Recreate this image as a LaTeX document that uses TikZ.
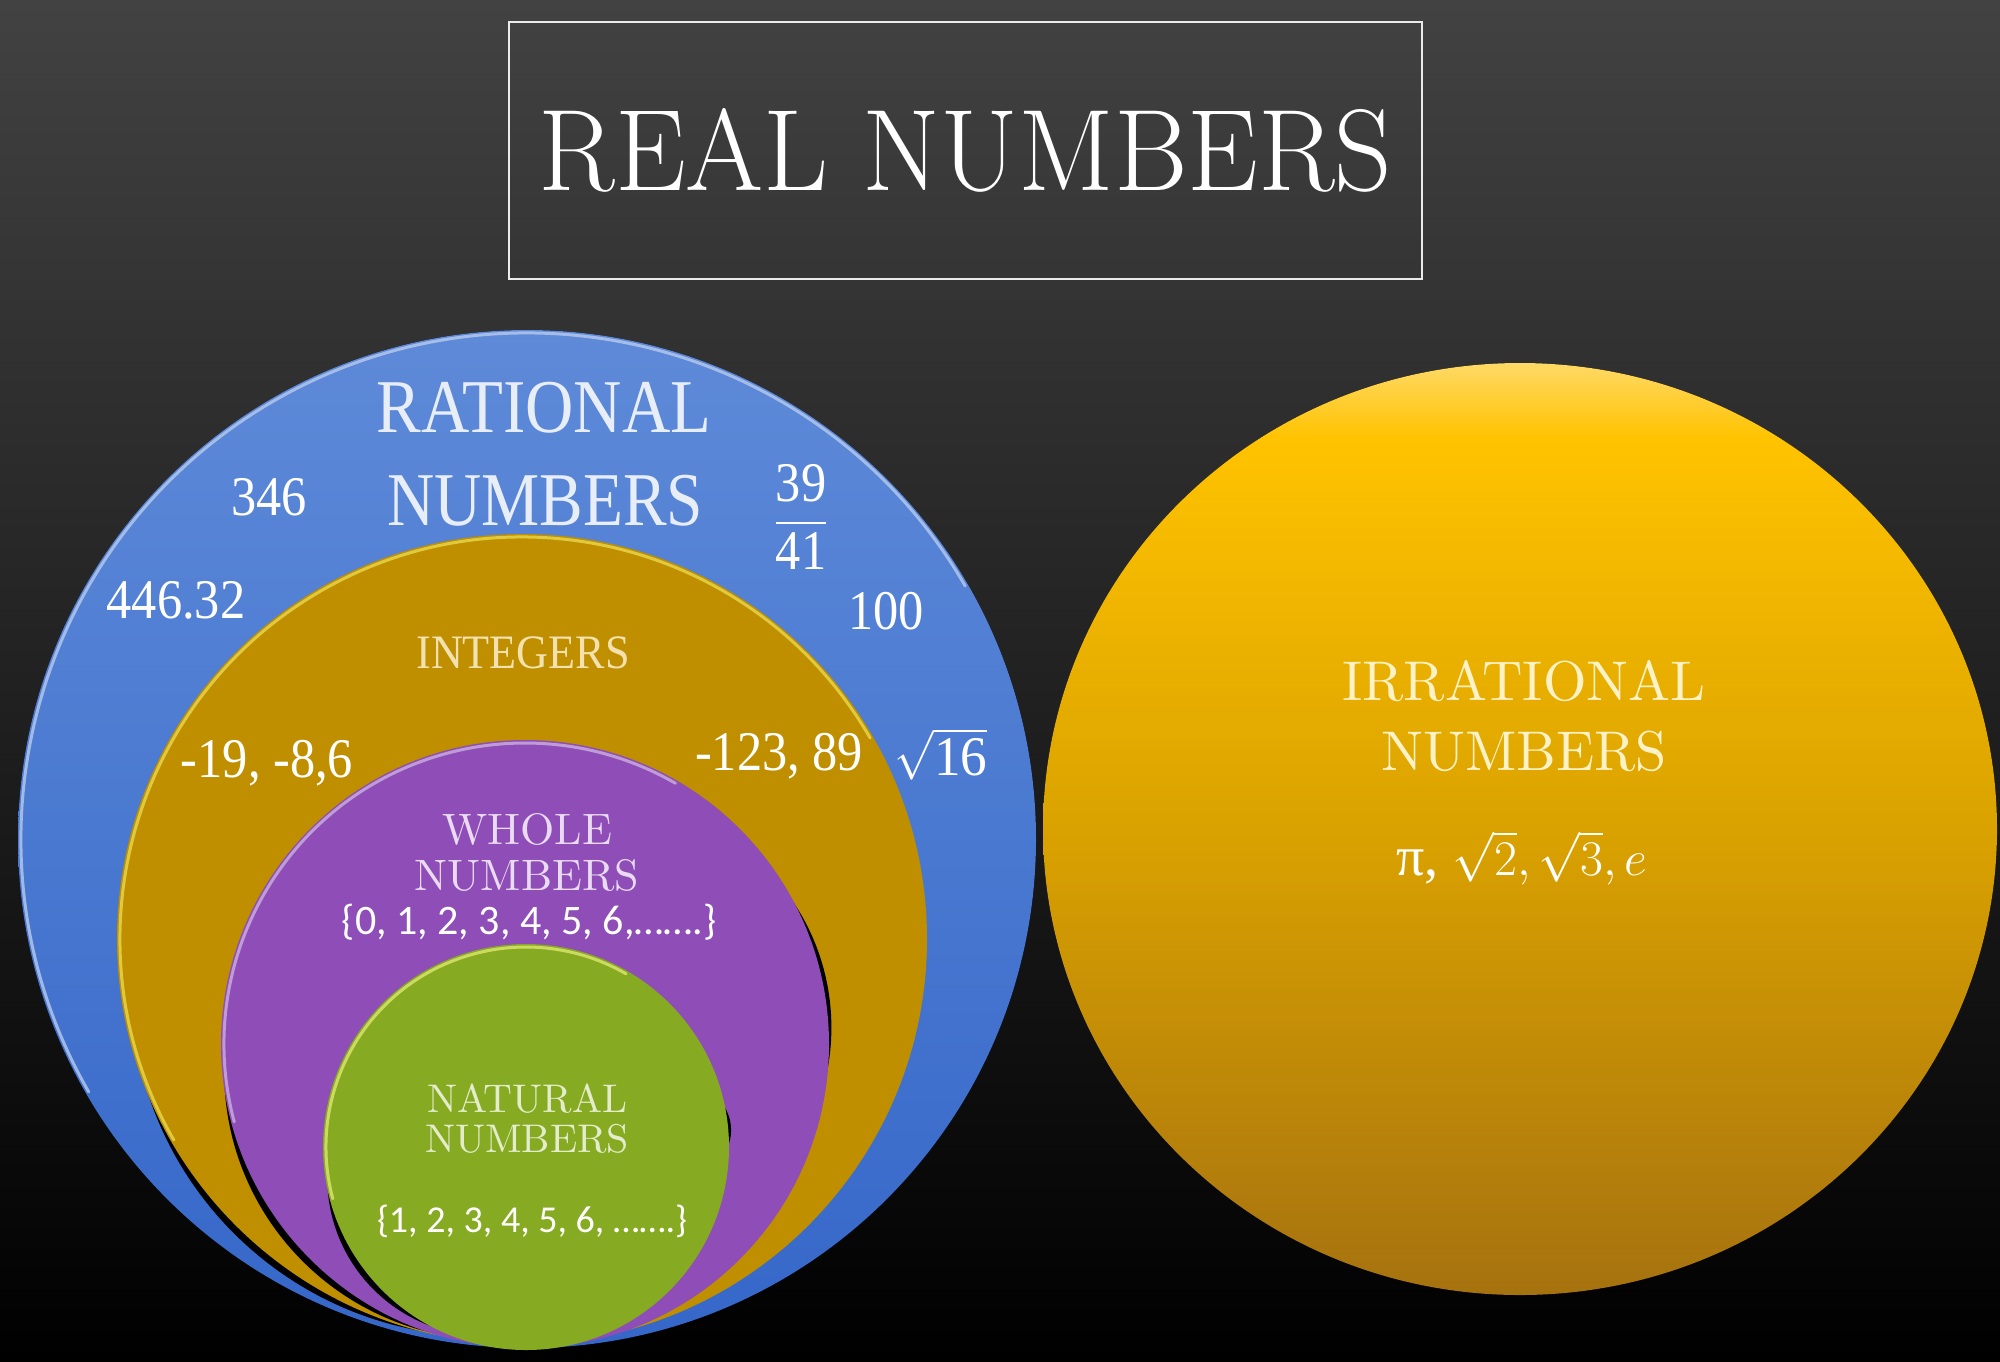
\documentclass[tikz,border=0pt]{standalone}
\usepackage{fontspec}
\usepackage{amsmath}
\usepackage{graphicx}
\newfontfamily\libs{Liberation Serif}
\newfontfamily\carl{Carlito}
\newfontfamily\lmten{lmroman10-regular.otf}
\definecolor{bgtop}{HTML}{424242}
\definecolor{bgmid}{HTML}{171717}
\definecolor{blueT}{HTML}{5E8AD8}
\definecolor{blueB}{HTML}{3567C9}
\definecolor{intgold}{HTML}{BF8F00}
\definecolor{wpurple}{HTML}{8E4DB7}
\definecolor{ngreen}{HTML}{86AB22}
\definecolor{irrL}{HTML}{FFD966}
\definecolor{irrT}{HTML}{FFC300}
\definecolor{irrM}{HTML}{DAA200}
\definecolor{irrB}{HTML}{A6720F}
\definecolor{ratTxt}{HTML}{E8EEF8}
\definecolor{intTxt}{HTML}{F3E2B0}
\definecolor{wholeTxt}{HTML}{EADAF2}
\definecolor{natTxt}{HTML}{E4ECCC}
\definecolor{irrTxt}{HTML}{FFF2C6}
\pgfdeclareverticalshading{irrshade}{100bp}{color(0bp)=(irrB); color(25bp)=(irrB); color(50bp)=(irrM); color(71bp)=(irrT); color(75bp)=(irrL); color(100bp)=(irrL)}
\newcommand{\fsz}[1]{\fontsize{#1}{#1}\selectfont}
\begin{document}
\begin{tikzpicture}[x=0.5pt,y=-0.5pt,
  lbl/.style={inner sep=0pt, align=center},
  ratlbl/.style={lbl, text=ratTxt, font=\libs\fsz{38}},
  numlbl/.style={lbl, text=white, font=\libs\fsz{28}},
  intlbl/.style={lbl, text=intTxt, font=\libs\fsz{24}},
  wholelbl/.style={lbl, text=wholeTxt, font=\lmten\fsz{22}},
  natlbl/.style={lbl, text=natTxt, font=\lmten\fsz{20}},
  irrlbl/.style={lbl, text=irrTxt, font=\lmten\fsz{28}},
  setlbl/.style={lbl, text=white, font=\carl},
  rim/.style={line width=1.5pt, line cap=round, opacity=0.8}
]
\useasboundingbox (0,0) rectangle (2000,1361);
% background
\fill[top color=bgtop, middle color=bgmid, bottom color=black] (0,0) rectangle (2000,1361);

% title
\node (title) [draw=white!92!black, line width=1pt, minimum width=456.5pt, minimum height=128.5pt, inner sep=0pt, text=white, font=\fsz{58}] at (965.5,150.5) {\scalebox{0.97}[1]{REAL NUMBERS}};

% rational (blue)
\fill[top color=blueT, bottom color=blueB] (527,839) circle[radius=509];
\draw[rim, blueT!45!white] (527,839) ++(150:506) arc[start angle=150, end angle=330, radius=506];

% integers (gold) with its shadow
\fill[black] (482.8,984.1) circle[radius=352.2];
\fill[intgold] (522,939) circle[radius=405];
\draw[rim, intgold!50!yellow!70!white] (522,939) ++(150:402) arc[start angle=150, end angle=330, radius=402];

% whole (purple) with its shadows
\fill[black] (491.8,1071.9) circle[radius=267.6];
\fill[black] (605.1,1027.7) circle[radius=226.3];
\fill[wpurple] (525,1044) circle[radius=304];
\draw[rim, wpurple!45!white] (525,1044) ++(165:301) arc[start angle=165, end angle=300, radius=301];

% natural (green) with its shadows
\fill[black] (485.0,1177.9) circle[radius=157.7];
\fill[black] (688.1,1130.0) circle[radius=43];
\fill[ngreen] (526,1147) circle[radius=203];
\draw[rim, ngreen!45!yellow!60!white] (526,1147) ++(165:200) arc[start angle=165, end angle=300, radius=200];

% irrational
\fill[shading=irrshade] (1520,829) ellipse[x radius=477, y radius=466];

% rational labels
\node (rat1) [ratlbl] at (544,408) {\scalebox{0.88}[1]{RATIONAL}};
\node (rat2) [ratlbl] at (545,501) {\scalebox{0.86}[1]{NUMBERS}};
\node (n346) [numlbl] at (269,497) {\scalebox{0.9}[1]{346}};
\node (nfrac) [numlbl] at (801,517) {\scalebox{0.9}[1]{\(\dfrac{\mbox{39}}{\mbox{41}}\)}};
\node (n446) [numlbl] at (176,600) {\scalebox{0.9}[1]{446.32}};
\node (n100) [numlbl] at (886,611) {\scalebox{0.9}[1]{100}};
\node (nsq16) [numlbl] at (941,754) {\scalebox{0.95}[1]{\(\sqrt{\mbox{16}}\)}};

% integer labels
\node (integ) [intlbl] at (523,653) {\scalebox{0.92}[1]{INTEGERS}};
\node (n19) [numlbl] at (267,763) {\scalebox{0.9}[1]{-19, -8,6}};
\node (n123) [numlbl] at (779,756) {\scalebox{0.9}[1]{-123, 89}};

% whole labels
\node (whole1) [wholelbl] at (527,829) {WHOLE};
\node (whole2) [wholelbl] at (527,875) {NUMBERS};
\node (wset) [setlbl, font=\carl\fsz{21}] at (529,922) {\{0, 1, 2, 3, 4, 5, 6,…….\}};

% natural labels
\node (nat1) [natlbl] at (527,1099) {NATURAL};
\node (nat2) [natlbl] at (527,1139) {NUMBERS};
\node (nset) [setlbl, font=\carl\fsz{19}] at (532,1221) {\{1, 2, 3, 4, 5, 6, …….\}};

% irrational labels
\node (irr1) [irrlbl] at (1524,681) {IRRATIONAL};
\node (irr2) [irrlbl] at (1524,751) {NUMBERS};
\node (irrv) [numlbl] at (1522,858) {{\libs π,} \(\sqrt{2}, \sqrt{3}, e\)};
\end{tikzpicture}
\end{document}
